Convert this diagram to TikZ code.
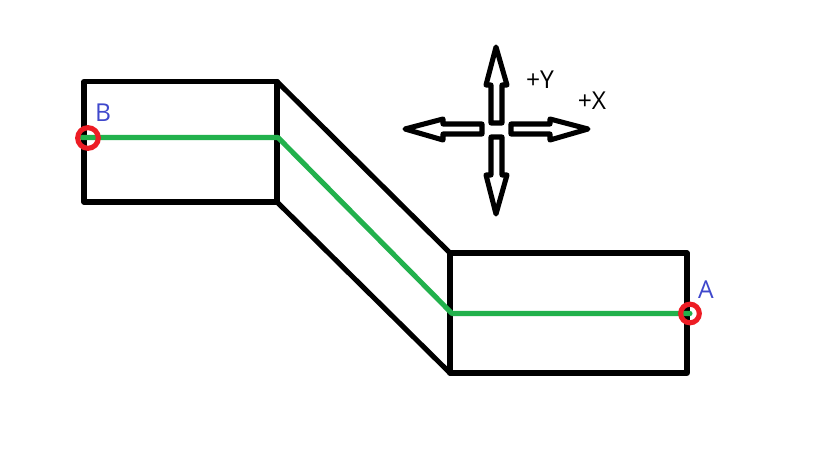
\documentclass[tikz,border=0pt]{standalone}
\usepackage{fontspec}
\setmainfont{Open Sans}
\definecolor{pgreen}{HTML}{22B14C}
\definecolor{pred}{HTML}{ED1C24}
\definecolor{pblue}{HTML}{3F48CC}
\tikzset{
  outline/.style={draw=black,line width=3.8pt,line cap=round,line join=round},
  arrowshape/.style={draw=black,line width=3.8pt,line cap=round,line join=round,fill=white},
  route/.style={draw=pgreen,line width=3.8pt,line cap=round,line join=round},
  marker/.style={draw=pred,line width=3.8pt,circle,inner sep=0pt,minimum size=#1},
  pointlabel/.style={text=pblue,font=\fontsize{18.5}{18.5}\selectfont,inner sep=0pt},
  axislabel/.style={text=black,font=\fontsize{18.5}{18.5}\selectfont,inner sep=0pt},
}
\begin{document}
\begin{tikzpicture}[x=0.75pt,y=-0.75pt]
\useasboundingbox (0,0) rectangle (819,460);
\fill[white] (0,0) rectangle (819,460);
% corners
\coordinate (la) at (84,81.5);
\coordinate (lb) at (277,81.5);
\coordinate (lc) at (277,202);
\coordinate (ld) at (84,202);
\coordinate (ra) at (450,253);
\coordinate (rb) at (687,253);
\coordinate (rc) at (687,373);
\coordinate (rd) at (450,373);
\coordinate (g1) at (82,137.5);
\coordinate (g2) at (278,137.5);
\coordinate (g3) at (452,313.5);
\coordinate (g4) at (690,313.5);
% body
\draw[outline] (la) -- (lb) -- (lc) -- (ld) -- cycle;
\draw[outline] (ra) -- (rb) -- (rc) -- (rd) -- cycle;
\draw[outline] (lb) -- (ra);
\draw[outline] (lc) -- (rd);
\draw[route] (g1) -- (g2) -- (g3) -- (g4);
\node[marker=15.5pt] (mb) at (88,138) {};
\node[marker=14pt] (ma) at (690,313.5) {};
% direction arrows
\draw[arrowshape] (496,47) -- (507,85) -- (502,85) -- (502,123) -- (491,123) -- (491,85) -- (486,85) -- cycle;
\draw[arrowshape] (496,214) -- (507,175) -- (502,175) -- (502,137) -- (491,137) -- (491,175) -- (486,175) -- cycle;
\draw[arrowshape] (588,129) -- (550,119) -- (550,124) -- (511,124) -- (511,134) -- (550,134) -- (550,140) -- cycle;
\draw[arrowshape] (405,129) -- (443,119) -- (443,124) -- (482,124) -- (482,134) -- (443,134) -- (443,140) -- cycle;
% labels
\node[pointlabel] (lblb) at (103,113) {B};
\node[pointlabel] (lbla) at (706,290) {A};
\node[axislabel] (lbly) at (540,79.5) {+Y};
\node[axislabel] (lblx) at (592,100.5) {+X};
\end{tikzpicture}
\end{document}
